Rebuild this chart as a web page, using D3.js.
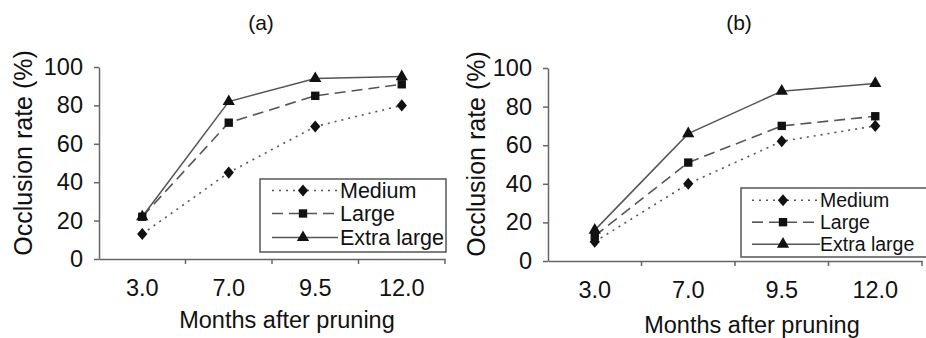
<!DOCTYPE html>
<html>
<head>
<meta charset="utf-8">
<script src="https://cdn.jsdelivr.net/npm/d3@7"></script>
<style>
  html, body { margin: 0; padding: 0; background: #fff; }
  svg { display: block; font-family: "Liberation Sans", Arial, sans-serif; }
</style>
</head>
<body>
<svg id="chart" width="926" height="338"></svg>
<script>
// ---- data ----
const categories = ["3.0", "7.0", "9.5", "12.0"];
const seriesNames = ["Medium", "Large", "Extra large"];
const panelTitles = ["(a)", "(b)"];
const yTicks = [0, 20, 40, 60, 80, 100];
const panelAMedium = [13, 45, 69, 80];
const panelALarge = [22, 71, 85, 91];
const panelAExtra = [22, 82, 94, 95];
const panelBMedium = [10, 40, 62, 70];
const panelBLarge = [13, 51, 70, 75];
const panelBExtra = [16, 66, 88, 92];
const xTitle = "Months after pruning";
const yTitle = "Occlusion rate (%)";

// ---- layout / style ----
const svg = d3.select("#chart");
const FONT = "Liberation Sans, Arial, sans-serif";
// a fatter diamond than d3.symbolDiamond (width ~0.85 of height)
const fatDiamond = {
  draw(ctx, size) {
    const h = Math.sqrt(size / 0.85) / 1.0; // half-diagonal scale
    const hy = h * 0.75, hx = hy * 0.85;
    ctx.moveTo(0, -hy); ctx.lineTo(hx, 0); ctx.lineTo(0, hy); ctx.lineTo(-hx, 0); ctx.closePath();
  }
};
const styles = [
  { dash: "2,5", width: 1.6, symbol: fatDiamond, size: 55 },
  { dash: "11,6", width: 1.6, symbol: d3.symbolSquare, size: 70 },
  { dash: null, width: 1.5, symbol: d3.symbolTriangle, size: 65 }
];
const lineColor = "#555";
const axisColor = "#666";

const panels = [
  {
    title: panelTitles[0], series: [panelAMedium, panelALarge, panelAExtra],
    left: 99, right: 445, top: 67, bottom: 259,
    titleX: 261, titleY: 30, xTitleX: 287, xTitleY: 328, yTitleX: 32, yTitleY: 153,
    legend: { x0: 260, y0: 179, x1: 446, y1: 252, lx0: 272, lx1: 338, mx: 303, tx: 340, rows: [198, 221, 245], fs: 21.5 }
  },
  {
    title: panelTitles[1], series: [panelBMedium, panelBLarge, panelBExtra],
    left: 548, right: 922, top: 68, bottom: 261,
    titleX: 739, titleY: 30, xTitleX: 752, xTitleY: 333, yTitleX: 485, yTitleY: 154,
    legend: { x0: 741, y0: 188, x1: 930, y1: 257, lx0: 752, lx1: 820, mx: 783, tx: 820, rows: [207, 229, 251], fs: 19.5 }
  }
];

panels.forEach(p => {
  const g = svg.append("g");
  const x = d3.scaleBand().domain(categories).range([p.left, p.right]).padding(0);
  const y = d3.scaleLinear().domain([0, 100]).range([p.bottom, p.top]);

  // y axis
  const yAxis = g.append("g").attr("transform", `translate(${p.left},0)`)
    .call(d3.axisLeft(y).tickValues(yTicks).tickSize(5).tickSizeOuter(0).tickPadding(11));
  yAxis.select(".domain").attr("stroke", axisColor).attr("stroke-width", 1.5);
  yAxis.selectAll(".tick line").attr("stroke", axisColor).attr("stroke-width", 1.5);
  yAxis.selectAll(".tick text").attr("font-size", 23.5).attr("fill", "#111").attr("font-family", FONT);

  // x axis (labels at band centers, ticks at band boundaries)
  const xAxis = g.append("g").attr("transform", `translate(0,${p.bottom})`)
    .call(d3.axisBottom(x).tickSize(0).tickSizeOuter(0).tickPadding(20));
  xAxis.select(".domain").attr("stroke", axisColor).attr("stroke-width", 1.5);
  xAxis.selectAll(".tick text").attr("font-size", 23.5).attr("fill", "#111").attr("font-family", FONT);
  g.append("g").selectAll("line").data(categories).join("line")
    .attr("x1", d => x(d) + x.bandwidth()).attr("x2", d => x(d) + x.bandwidth())
    .attr("y1", p.bottom).attr("y2", p.bottom + 5)
    .attr("stroke", axisColor).attr("stroke-width", 1.5);

  // series
  const line = d3.line().x((d, i) => x(categories[i]) + x.bandwidth() / 2).y(d => y(d));
  p.series.forEach((vals, si) => {
    const st = styles[si];
    g.append("path").datum(vals).attr("d", line)
      .attr("fill", "none").attr("stroke", lineColor).attr("stroke-width", st.width)
      .attr("stroke-dasharray", st.dash);
  });
  p.series.forEach((vals, si) => {
    const st = styles[si];
    g.append("g").selectAll("path").data(vals).join("path")
      .attr("transform", (d, i) => `translate(${x(categories[i]) + x.bandwidth() / 2},${y(d)})`)
      .attr("d", d3.symbol().type(st.symbol).size(st.size))
      .attr("fill", "#111");
  });

  // legend
  const L = p.legend;
  g.append("rect").attr("x", L.x0).attr("y", L.y0).attr("width", L.x1 - L.x0).attr("height", L.y1 - L.y0)
    .attr("fill", "#fff").attr("stroke", "#555").attr("stroke-width", 1.5);
  seriesNames.forEach((name, si) => {
    const st = styles[si];
    const cy = L.rows[si] - L.fs * 0.35;
    g.append("line").attr("x1", L.lx0).attr("x2", L.lx1).attr("y1", cy).attr("y2", cy)
      .attr("stroke", lineColor).attr("stroke-width", st.width).attr("stroke-dasharray", st.dash);
    g.append("path").attr("transform", `translate(${L.mx},${cy})`)
      .attr("d", d3.symbol().type(st.symbol).size(st.size)).attr("fill", "#111");
    g.append("text").attr("x", L.tx).attr("y", L.rows[si]).attr("font-size", L.fs).attr("fill", "#111")
      .text(name);
  });

  // titles
  g.append("text").attr("x", p.titleX).attr("y", p.titleY).attr("text-anchor", "middle")
    .attr("font-size", 21).attr("fill", "#111").text(p.title);
  g.append("text").attr("x", p.xTitleX).attr("y", p.xTitleY).attr("text-anchor", "middle")
    .attr("font-size", 23.5).attr("fill", "#111").text(xTitle);
  g.append("text").attr("transform", `translate(${p.yTitleX},${p.yTitleY}) rotate(-90)`)
    .attr("text-anchor", "middle").attr("font-size", 25).attr("fill", "#111").text(yTitle);
});
</script>
</body>
</html>
